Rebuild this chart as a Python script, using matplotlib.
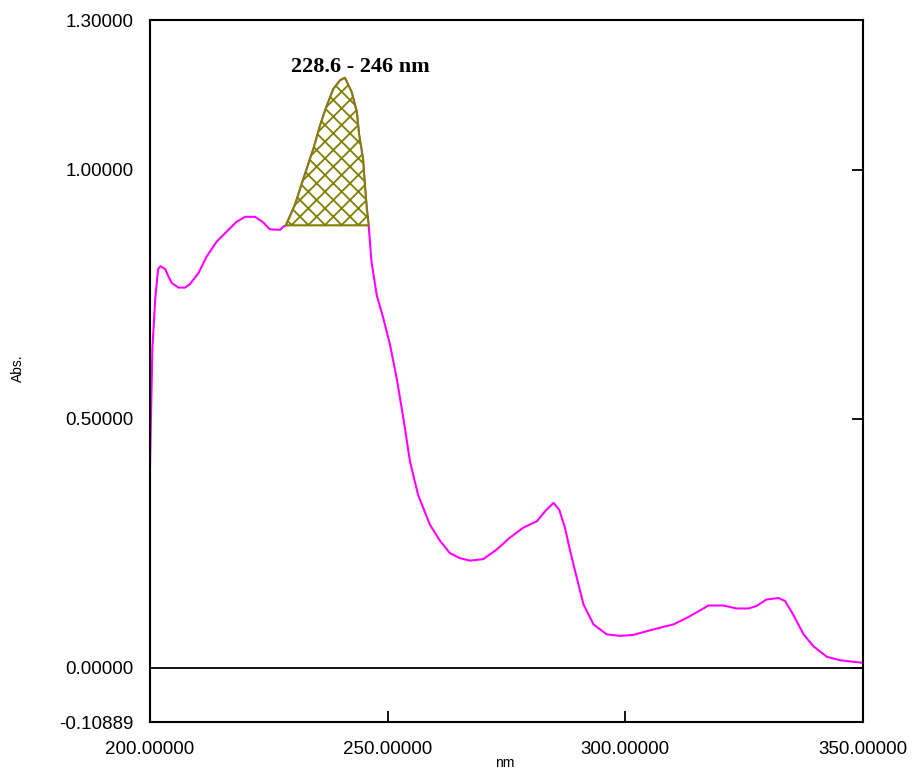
import numpy as np
import matplotlib.pyplot as plt

# UV spectrum
wavelength = [200.0, 200.2, 200.5, 201.1, 201.7, 202.2, 203.2, 203.9, 204.6, 206.0,
              207.4, 208.4, 210.2, 211.9, 214.0, 216.1, 218.2, 220.0, 222.1, 223.8,
              225.2, 227.4, 228.0, 228.6, 230.5, 232.3, 234.4, 235.8, 237.2, 238.6,
              240.0, 241.0, 242.4, 243.5, 244.0, 244.8, 245.2, 245.6, 246.0, 246.6,
              247.7, 249.1, 250.5, 251.9, 253.3, 254.7, 256.4, 258.9, 261.0, 263.1,
              265.2, 267.3, 270.1, 272.9, 275.7, 278.5, 281.4, 283.1, 284.9, 286.1,
              287.3, 288.4, 289.8, 291.2, 293.3, 296.1, 298.9, 301.7, 305.9, 310.1,
              312.9, 315.7, 317.5, 320.6, 323.4, 325.9, 327.6, 329.7, 332.2, 333.6,
              335.3, 337.5, 339.6, 342.4, 345.2, 348.0, 350.0]
absorbance = [0.40, 0.50, 0.64, 0.74, 0.80, 0.806, 0.80, 0.785, 0.772, 0.763,
              0.763, 0.770, 0.792, 0.825, 0.855, 0.875, 0.895, 0.905, 0.905, 0.894,
              0.880, 0.879, 0.885, 0.888, 0.929, 0.982, 1.042, 1.089, 1.128, 1.162,
              1.179, 1.184, 1.156, 1.116, 1.069, 1.022, 0.969, 0.922, 0.888, 0.815,
              0.748, 0.701, 0.648, 0.581, 0.501, 0.414, 0.347, 0.287, 0.255, 0.230,
              0.220, 0.215, 0.218, 0.237, 0.261, 0.281, 0.294, 0.314, 0.331, 0.317,
              0.281, 0.234, 0.180, 0.127, 0.087, 0.067, 0.064, 0.066, 0.077, 0.087,
              0.100, 0.115, 0.125, 0.125, 0.119, 0.119, 0.124, 0.137, 0.140, 0.134,
              0.107, 0.067, 0.043, 0.022, 0.015, 0.012, 0.010]

band_start, band_end = 228.6, 246.0
band_label = '228.6 - 246 nm'

x_ticks = [200, 250, 300, 350]
x_tick_labels = ['200.00000', '250.00000', '300.00000', '350.00000']
y_ticks = [-0.10889, 0.0, 0.5, 1.0, 1.3]
y_tick_labels = ['-0.10889', '0.00000', '0.50000', '1.00000', '1.30000']

wl = np.array(wavelength)
ab = np.array(absorbance)

fig = plt.figure(figsize=(9.14, 7.70), dpi=100)
ax = fig.add_axes([0.1641, 0.0623, 0.7801, 0.9117])

ax.plot(wl, ab, color='#ff00ff', lw=1.5, zorder=2)

# shaded band between spectrum and straight baseline
mask = (wl >= band_start) & (wl <= band_end)
xs = wl[mask]
ys = ab[mask]
base = np.interp(xs, [xs[0], xs[-1]], [ys[0], ys[-1]])
plt.rcParams['hatch.linewidth'] = 1.3
plt.rcParams['hatch.color'] = '#808000'
ax.fill_between(xs, ys, base, facecolor='white', edgecolor='#808000',
                hatch='xx', lw=1.5, zorder=3)
ax.text(244.2, 1.206, band_label, ha='center', va='center',
        fontsize=16, fontweight='bold', family='Liberation Serif')

ax.axhline(0, color='black', lw=1.3, zorder=1)

ax.set_xlim(200, 350)
ax.set_ylim(-0.10889, 1.3)
ax.set_xticks(x_ticks)
ax.set_xticklabels(x_tick_labels)
ax.set_yticks(y_ticks)
ax.set_yticklabels(y_tick_labels)
ax.tick_params(axis='x', direction='in', length=8, width=1.3, pad=14,
               labelsize=13.5)
ax.tick_params(axis='y', direction='in', length=8, width=1.3, left=False,
               right=True, pad=12, labelsize=13.5)
for lab in ax.get_xticklabels() + ax.get_yticklabels():
    lab.set_family('Liberation Sans')
for s in ax.spines.values():
    s.set_linewidth(1.5)

fig.text(18 / 914, 1 - 368 / 770, 'Abs.', rotation=90, ha='center',
         va='center', fontsize=10, family='Liberation Sans')
fig.text(505 / 914, 1 - 756 / 770, 'nm', ha='center', va='top',
         fontsize=10, family='Liberation Sans')

fig.savefig('out.png', dpi=100)
